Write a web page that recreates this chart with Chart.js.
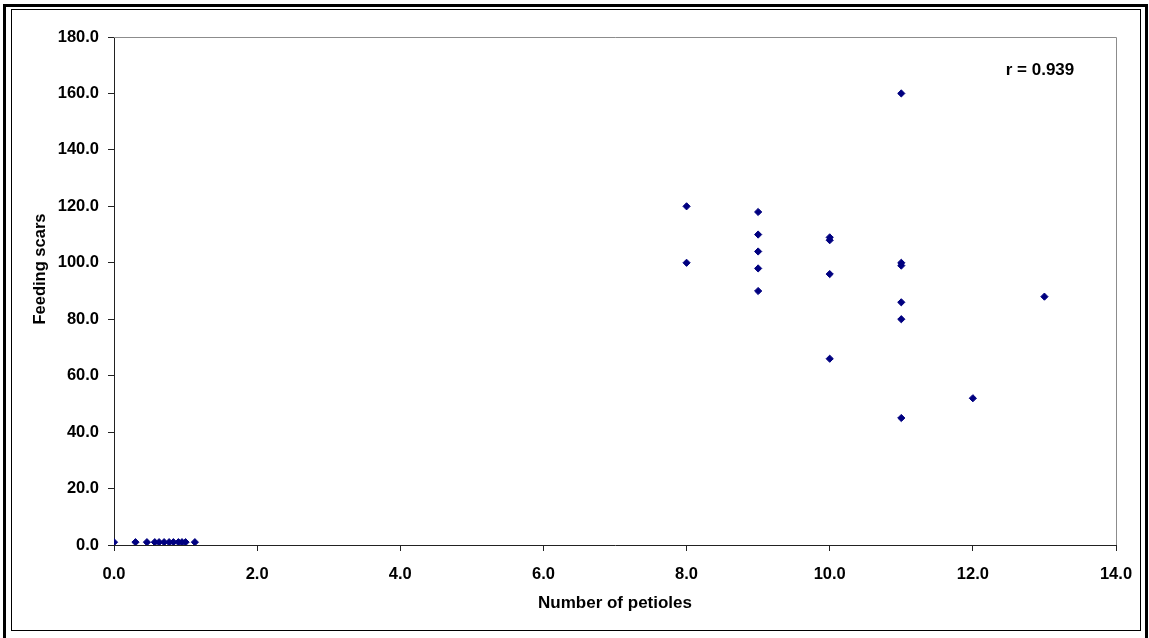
<!DOCTYPE html>
<html lang="en">
<head>
  <meta charset="UTF-8">
  <title>Feeding scars vs petioles</title>
  <script src="https://cdn.jsdelivr.net/npm/chart.js@4/dist/chart.umd.min.js"></script>
  <style>
    html, body { margin: 0; padding: 0; background: #fff; }
    #wrap { position: relative; width: 1149px; height: 638px; }
    canvas { display: block; }
  </style>
</head>
<body>
  <div id="wrap"><canvas id="chart" width="1149" height="638"></canvas></div>
  <script>
    // petioles per plant (x) and feeding scars (y)
    const petioles = [0, 0.3, 0.46, 0.57, 0.63, 0.7, 0.77, 0.83, 0.9, 0.95, 1.0, 1.13,
                      8, 8, 9, 9, 9, 9, 9, 10, 10, 10, 10, 11, 11, 11, 11, 11, 11, 12, 13];
    const scars    = [1, 1, 1, 1, 1, 1, 1, 1, 1, 1, 1, 1,
                      120, 100, 118, 110, 104, 98, 90, 109, 108, 96, 66, 160, 100, 99, 86, 80, 45, 52, 88];
    const xTicks = [0, 14, 2];   // min, max, step
    const yTicks = [0, 180, 20];
    const corrLabel = 'r = 0.939';

    const FONT = 'Liberation Sans, Arial, sans-serif';

    const frame = {
      id: 'frame',
      beforeDraw(chart) {
        const c = chart.ctx;
        c.save();
        c.fillStyle = '#fff';
        c.fillRect(0, 0, chart.width, chart.height);
        // double outer border
        c.strokeStyle = '#000';
        c.lineWidth = 3;
        c.strokeRect(4.5, 5.5, 1142, 636);
        c.lineWidth = 1;
        c.strokeRect(11.5, 9.5, 1129, 621);
        c.restore();
      },
      afterDraw(chart) {
        const c = chart.ctx, a = chart.chartArea;
        c.save();
        // plot area border (top and right)
        c.strokeStyle = '#8c8c8c';
        c.lineWidth = 1;
        c.beginPath();
        c.moveTo(a.left, Math.round(a.top) + 0.5);
        c.lineTo(Math.round(a.right) + 0.5, Math.round(a.top) + 0.5);
        c.lineTo(Math.round(a.right) + 0.5, a.bottom);
        c.stroke();
        c.fillStyle = '#000';
        c.textAlign = 'center';
        c.textBaseline = 'middle';
        c.font = 'bold 17px ' + FONT;
        c.fillText('Number of petioles', (a.left + a.right) / 2, 603);
        c.fillText(corrLabel, 1040, 70);
        c.font = 'bold 16.5px ' + FONT;
        c.translate(40, 269);
        c.rotate(-Math.PI / 2);
        c.fillText('Feeding scars', 0, 0);
        c.restore();
      }
    };

    new Chart(document.getElementById('chart'), {
      type: 'scatter',
      data: {
        datasets: [{
          data: petioles.map((x, i) => ({ x, y: scars[i] })),
          pointStyle: 'rectRot',
          radius: 3.6,
          hoverRadius: 3.6,
          backgroundColor: '#000080',
          borderColor: '#000080',
          borderWidth: 1,
        }],
      },
      options: {
        responsive: false,
        animation: false,
        events: [],
        layout: { padding: { left: 14, top: 37, right: 33, bottom: 33 } },
        plugins: { legend: { display: false }, tooltip: { enabled: false } },
        scales: {
          x: {
            type: 'linear',
            min: xTicks[0], max: xTicks[1],
            afterFit(s) { s.height = 60; },
            ticks: { stepSize: xTicks[2], padding: 14, color: '#000', maxRotation: 0,
              font: { family: FONT, size: 16.5, weight: 'bold' },
              callback: v => v.toFixed(1) },
            grid: { drawOnChartArea: false, tickLength: 6, color: '#222' },
            border: { color: '#222', width: 1 },
          },
          y: {
            type: 'linear',
            min: yTicks[0], max: yTicks[1],
            afterFit(s) { s.width = 100; },
            ticks: { stepSize: yTicks[2], padding: 9, color: '#000',
              font: { family: FONT, size: 16.5, weight: 'bold' },
              callback: v => v.toFixed(1) },
            grid: { drawOnChartArea: false, tickLength: 6, color: '#222' },
            border: { color: '#222', width: 1 },
          },
        },
      },
      plugins: [frame],
    });
  </script>
</body>
</html>
